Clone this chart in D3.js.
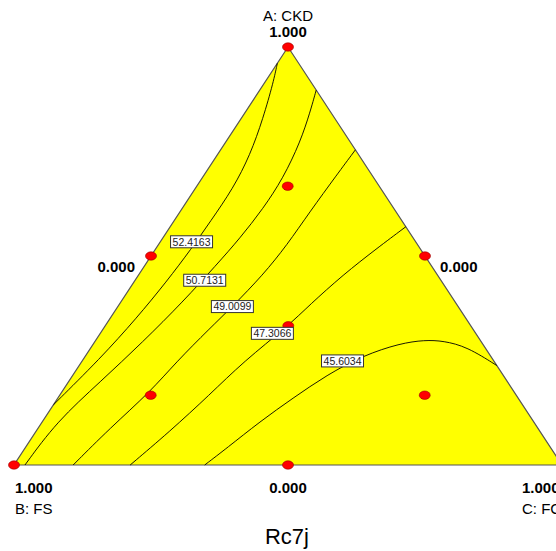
<!DOCTYPE html>
<html>
<head>
<meta charset="utf-8">
<script src="https://cdn.jsdelivr.net/npm/d3@7"></script>
<style>
  body { margin: 0; background: #fff; }
  text { font-family: Arial, "Liberation Sans", sans-serif; }
</style>
</head>
<body>
<div id="chart"></div>
<script>
// mixture components and tick labels at corners / edge midpoints
var componentNames = ["A: CKD", "B: FS", "C: FC"];
var cornerTicks = ["1.000", "1.000", "1.000"];
var edgeTicks = ["0.000", "0.000", "0.000"];   // left (C=0), right (B=0), bottom (A=0)
var chartTitle = "Rc7j";

// contour levels and the curves, as [A, B] (C = 1 - A - B)
var contourLevels = [52.4163, 50.7131, 49.0099, 47.3066, 45.6034];
var contourLines = [
  [[0.961,0.039],[0.917,0.068],[0.829,0.131],[0.742,0.198],[0.662,0.269],[0.582,0.351],[0.518,0.417],[0.439,0.502],[0.351,0.601],[0.255,0.715],[0.144,0.856]],
  [[0.897,0.000],[0.845,0.037],[0.773,0.091],[0.686,0.166],[0.614,0.238],[0.542,0.317],[0.479,0.391],[0.391,0.496],[0.295,0.617],[0.199,0.743],[0.104,0.870],[0.000,0.980]],
  [[0.754,0.000],[0.694,0.064],[0.606,0.157],[0.526,0.239],[0.455,0.318],[0.379,0.412],[0.327,0.479],[0.247,0.580],[0.175,0.664],[0.088,0.781],[0.000,0.892]],
  [[0.570,0.000],[0.518,0.079],[0.455,0.172],[0.383,0.269],[0.333,0.333],[0.247,0.458],[0.168,0.559],[0.080,0.676],[0.000,0.788]],
  [[0.238,0.000],[0.283,0.032],[0.297,0.068],[0.299,0.101],[0.291,0.150],[0.262,0.232],[0.215,0.322],[0.160,0.411],[0.104,0.499],[0.040,0.592],[0.000,0.652]]
];
var labelSpots = [[0.534,0.409],[0.442,0.431],[0.379,0.412],[0.315,0.371],[0.249,0.276]];

// design points, [A, B]
var designPoints = [
  [1,0],[0,1],[0,0],
  [0.5,0.5],[0.5,0],[0,0.5],
  [0.333,0.333],
  [0.667,0.167],[0.167,0.667],[0.167,0.167]
];

(function() {
  var width = 556, height = 551;

  var svg = d3.select("#chart")
    .append("svg")
    .attr("width", width)
    .attr("height", height);

  // A runs bottom to top, (C - B) runs left to right
  var yScale = d3.scaleLinear().domain([0, 1]).range([465, 47]);
  var xScale = d3.scaleLinear().domain([-1, 1]).range([14, 562]);

  function px(d) { return xScale((1 - d[0] - d[1]) - d[1]); }
  function py(d) { return yScale(d[0]); }

  var corners = [[1,0],[0,1],[0,0]];

  svg.append("path")
    .attr("d", "M" + corners.map(function(d) { return px(d) + "," + py(d); }).join("L") + "Z")
    .attr("fill", "#ffff00")
    .attr("stroke", "#555")
    .attr("stroke-width", 1.2);

  var line = d3.line().x(px).y(py).curve(d3.curveBasis);

  svg.selectAll(".contour")
    .data(contourLines)
    .enter()
    .append("path")
    .attr("class", "contour")
    .attr("d", line)
    .attr("fill", "none")
    .attr("stroke", "#000")
    .attr("stroke-width", 0.9);

  svg.selectAll(".pt")
    .data(designPoints)
    .enter()
    .append("ellipse")
    .attr("class", "pt")
    .attr("cx", px)
    .attr("cy", py)
    .attr("rx", 5.5)
    .attr("ry", 4.2)
    .attr("fill", "#ff0000")
    .attr("stroke", "#990000")
    .attr("stroke-width", 0.6);

  var labels = svg.selectAll(".clabel")
    .data(contourLevels)
    .enter()
    .append("g")
    .attr("class", "clabel")
    .attr("transform", function(d, i) {
      return "translate(" + px(labelSpots[i]) + "," + py(labelSpots[i]) + ")";
    });

  labels.append("rect")
    .attr("x", -21)
    .attr("y", -6)
    .attr("width", 42)
    .attr("height", 12)
    .attr("fill", "#fff")
    .attr("stroke", "#333")
    .attr("stroke-width", 1);

  labels.append("text")
    .attr("text-anchor", "middle")
    .attr("y", 3.8)
    .attr("font-size", "10.5px")
    .attr("fill", "#222")
    .text(function(d) { return d.toFixed(4); });

  function addText(x, y, str, size, weight, anchor) {
    svg.append("text")
      .attr("x", x)
      .attr("y", y)
      .attr("font-size", size)
      .attr("font-weight", weight)
      .attr("text-anchor", anchor)
      .attr("fill", "#000")
      .text(str);
  }

  var top = corners[0], left = corners[1], right = corners[2];
  addText(px(top), py(top) - 26, componentNames[0], "15px", "normal", "middle");
  addText(px(top), py(top) - 10, cornerTicks[0], "15px", "bold", "middle");

  addText(px(left) + 1, py(left) + 28, cornerTicks[1], "15px", "bold", "start");
  addText(px(left) + 1, py(left) + 49, componentNames[1], "15px", "normal", "start");

  addText(px(right) - 40, py(right) + 28, cornerTicks[2], "15px", "bold", "start");
  addText(px(right) - 40, py(right) + 49, componentNames[2], "15px", "normal", "start");

  addText(px([0.5,0.5]) - 16, py([0.5,0.5]) + 16, edgeTicks[0], "15px", "bold", "end");
  addText(px([0.5,0]) + 15, py([0.5,0]) + 16, edgeTicks[1], "15px", "bold", "start");
  addText(px([0,0.5]), py([0,0.5]) + 28, edgeTicks[2], "15px", "bold", "middle");

  addText(287, 544, chartTitle, "22px", "normal", "middle");
})();
</script>
</body>
</html>
